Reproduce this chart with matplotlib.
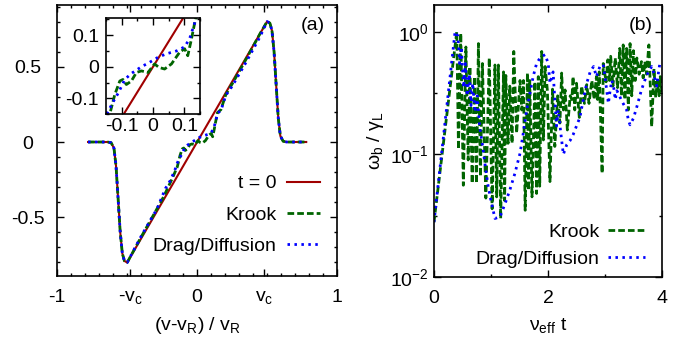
import numpy as np
import matplotlib
matplotlib.use("Agg")
import matplotlib.pyplot as plt
from matplotlib.ticker import FixedLocator, MultipleLocator, NullFormatter

plt.rcParams['font.family'] = ['Liberation Sans', 'DejaVu Sans']
plt.rcParams['font.size'] = 14
plt.rcParams['mathtext.fontset'] = 'custom'
plt.rcParams['mathtext.rm'] = 'Liberation Sans'
plt.rcParams['mathtext.it'] = 'Liberation Sans'
plt.rcParams['mathtext.default'] = 'regular'
plt.rcParams['axes.unicode_minus'] = False

# ---- panel (a): distribution gradient vs (v-vR)/vR ----
vc = 0.48

v_t0 = [-0.78, -0.64, -0.615, -0.595, -0.58, -0.565, -0.55, -0.535, -0.52, -0.50,
        0.50, 0.52, 0.535, 0.55, 0.565, 0.58, 0.595, 0.615, 0.64, 0.78]
f_t0 = [0.0, 0.0, -0.005, -0.04, -0.16, -0.38, -0.60, -0.74, -0.79, -0.80,
        0.80, 0.79, 0.74, 0.60, 0.38, 0.16, 0.04, 0.005, 0.0, 0.0]

v_krook = [-0.78, -0.64, -0.615, -0.595, -0.58, -0.565, -0.55, -0.535, -0.52, -0.50,
           -0.40, -0.30, -0.24, -0.178, -0.142, -0.122, -0.106, -0.096, -0.085,
           -0.069, -0.053, -0.037, -0.016, 0.005, 0.019, 0.037, 0.059, 0.085,
           0.101, 0.111, 0.122, 0.133, 0.145, 0.17, 0.205, 0.25, 0.35, 0.45,
           0.50, 0.52, 0.535, 0.55, 0.565, 0.58, 0.595, 0.615, 0.64, 0.78]
f_krook = [0.0, 0.0, -0.005, -0.04, -0.16, -0.38, -0.60, -0.74, -0.79, -0.80,
           -0.63, -0.465, -0.364, -0.242, -0.165, -0.088, -0.045, -0.040, -0.056,
           -0.045, -0.018, -0.013, -0.018, 0.009, -0.002, -0.007, 0.009, 0.046,
           0.057, 0.035, 0.084, 0.138, 0.195, 0.215, 0.315, 0.385, 0.55, 0.72,
           0.80, 0.79, 0.74, 0.60, 0.38, 0.16, 0.04, 0.005, 0.0, 0.0]

v_drag = [-0.78, -0.64, -0.615, -0.595, -0.58, -0.565, -0.55, -0.535, -0.52, -0.50,
          -0.40, -0.286, -0.227, -0.19, -0.155, -0.146, -0.127, -0.111, -0.090,
          -0.069, -0.037, -0.011, 0.016, 0.043, 0.075, 0.101, 0.117, 0.133,
          0.145, 0.17, 0.205, 0.25, 0.35, 0.45,
          0.50, 0.52, 0.535, 0.55, 0.565, 0.58, 0.595, 0.615, 0.64, 0.78]
f_drag = [0.0, 0.0, -0.005, -0.04, -0.16, -0.38, -0.60, -0.74, -0.79, -0.80,
          -0.625, -0.442, -0.309, -0.253, -0.176, -0.147, -0.110, -0.083, -0.040,
          -0.021, 0.0, 0.014, 0.030, 0.041, 0.050, 0.063, 0.089, 0.138,
          0.19, 0.21, 0.31, 0.37, 0.53, 0.70,
          0.80, 0.79, 0.74, 0.60, 0.38, 0.16, 0.04, 0.005, 0.0, 0.0]

# ---- panel (b): bounce frequency vs nu_eff t ----
t_krook = [0.0, 0.40, 0.43, 0.47, 0.515, 0.56, 0.60, 0.63, 0.67, 0.71, 0.745,
           0.78, 0.815, 0.85, 0.91, 0.97, 1.02, 1.07, 1.10, 1.13, 1.17, 1.22,
           1.24, 1.26, 1.30, 1.33, 1.37, 1.40, 1.45, 1.51, 1.54, 1.57, 1.60,
           1.64, 1.66, 1.68, 1.72, 1.77, 1.80, 1.83, 1.855, 1.89, 1.92, 1.95,
           1.99, 2.035, 2.08, 2.12, 2.17, 2.21, 2.24, 2.27, 2.30, 2.34, 2.39,
           2.42, 2.44, 2.47, 2.50, 2.55, 2.59, 2.64, 2.68, 2.72, 2.77, 2.81,
           2.85, 2.87, 2.90, 2.95, 2.97, 3.02, 3.05, 3.08, 3.10, 3.14, 3.18,
           3.22, 3.26, 3.29, 3.32, 3.35, 3.38, 3.41, 3.44, 3.47, 3.50, 3.53,
           3.56, 3.60, 3.64, 3.67, 3.70, 3.73, 3.77, 3.82, 3.86, 3.89, 3.92,
           3.95, 3.97, 4.0]
w_krook = [0.028, 1.0, 0.11, 0.97, 0.056, 0.75, 0.09, 0.52, 0.058, 0.43, 0.058,
           0.80, 0.066, 0.55, 0.044, 0.61, 0.036, 0.535, 0.045, 0.535, 0.030, 0.47,
           0.042, 0.44, 0.123, 0.36, 0.123, 0.69, 0.149, 0.40, 0.23, 0.40, 0.035,
           0.46, 0.051, 0.40, 0.045, 0.39, 0.048, 0.43, 0.055, 0.69, 0.131, 0.52,
           0.33, 0.060, 0.34, 0.116, 0.30, 0.18, 0.46, 0.23, 0.335, 0.158, 0.30,
           0.28, 0.43, 0.23, 0.38, 0.20, 0.36, 0.26, 0.37, 0.26, 0.40, 0.28,
           0.43, 0.28, 0.47, 0.070, 0.55, 0.39, 0.59, 0.40, 0.63, 0.36, 0.61,
           0.35, 0.73, 0.30, 0.78, 0.28, 0.73, 0.23, 0.80, 0.30, 0.70, 0.40,
           0.61, 0.45, 0.57, 0.42, 0.57, 0.45, 0.78, 0.168, 0.50, 0.29, 0.40,
           0.30, 0.43, 0.32]

t_drag = [0.0, 0.37, 0.42, 0.45, 0.48, 0.52, 0.55, 0.58, 0.62, 0.65, 0.68, 0.72,
          0.76, 0.80, 0.85, 0.90, 0.95, 1.00, 1.07, 1.16, 1.25, 1.33, 1.42, 1.51,
          1.567, 1.626, 1.684, 1.74, 1.80, 1.86, 1.90, 1.95, 2.005, 2.035, 2.09,
          2.12, 2.15, 2.18, 2.24, 2.27, 2.33, 2.39, 2.44, 2.50, 2.56, 2.62, 2.68,
          2.74, 2.80, 2.85, 2.91, 2.97, 3.0, 3.06, 3.09, 3.12, 3.15, 3.18, 3.21,
          3.30, 3.38, 3.41, 3.44, 3.50, 3.56, 3.64, 3.73, 3.82, 3.85, 3.88, 3.91,
          3.94, 3.96, 4.0]
w_drag = [0.028, 1.0, 0.92, 0.55, 0.75, 0.35, 0.55, 0.30, 0.45, 0.25, 0.38, 0.22,
          0.30, 0.17, 0.12, 0.08, 0.055, 0.042, 0.030, 0.031, 0.040, 0.051, 0.070,
          0.102, 0.149, 0.23, 0.315, 0.43, 0.55, 0.61, 0.63, 0.65, 0.55, 0.38,
          0.47, 0.28, 0.17, 0.23, 0.13, 0.10, 0.12, 0.13, 0.144, 0.17, 0.20, 0.28,
          0.38, 0.47, 0.52, 0.43, 0.52, 0.54, 0.43, 0.26, 0.33, 0.40, 0.36, 0.28,
          0.33, 0.27, 0.23, 0.19, 0.174, 0.197, 0.245, 0.335, 0.44, 0.52, 0.47,
          0.40, 0.36, 0.47, 0.54, 0.52]

red = '#a00000'
green = '#006400'
blue = '#0000ff'
dash = (0, (2.4, 1.1))
dot = (0, (0.9, 1.6))


def style_axes(ax):
    ax.tick_params(which='both', direction='in', top=True, right=True)
    ax.tick_params(which='major', length=5, width=1)
    ax.tick_params(which='minor', length=2.5, width=1)
    for s in ax.spines.values():
        s.set_linewidth(1.2)


fig = plt.figure(figsize=(6.83, 3.47), dpi=100)

# panel (a)
ax1 = fig.add_axes([0.0839, 0.2046, 0.4095, 0.781])
ax1.plot(v_t0, f_t0, color=red, lw=1.5, label='t = 0')
ax1.plot(v_krook, f_krook, color=green, lw=2, linestyle=dash, label='Krook')
ax1.plot(v_drag, f_drag, color=blue, lw=2, linestyle=dot, label='Drag/Diffusion')
ax1.set_xlim(-1, 1)
ax1.set_ylim(-0.89, 0.91)
ax1.set_xticks([-1, -vc, 0, vc, 1])
ax1.set_xticklabels(['-1', '-v$_c$', '0', 'v$_c$', '1'])
ax1.xaxis.set_minor_locator(MultipleLocator(0.1))
ax1.set_yticks([-0.5, 0, 0.5])
ax1.set_yticklabels(['-0.5', '0', '0.5'])
ax1.yaxis.set_minor_locator(MultipleLocator(0.1))
style_axes(ax1)
ax1.tick_params(axis='x', which='major', pad=9.5)
ax1.tick_params(axis='y', which='major', pad=21.5)
for lbl in ax1.get_yticklabels():
    lbl.set_horizontalalignment('center')
ax1.set_xlabel('(v-v$_R$) / v$_R$', labelpad=6)
ax1.text(0.955, 0.925, '(a)', transform=ax1.transAxes, ha='right', va='center')
ax1.legend(loc='lower right', bbox_to_anchor=(0.94, 0.078), markerfirst=False,
           frameon=False, handlelength=1.7, handletextpad=0.56, labelspacing=0.7,
           borderaxespad=0, borderpad=0)

# inset
axi = fig.add_axes([0.1552, 0.6706, 0.1376, 0.2784])
axi.plot(v_t0, f_t0, color=red, lw=1.5)
axi.plot(v_krook, f_krook, color=green, lw=2, linestyle=dash)
axi.plot(v_drag, f_drag, color=blue, lw=2, linestyle=dot)
axi.set_xlim(-0.15, 0.15)
axi.set_ylim(-0.15, 0.155)
axi.set_xticks([-0.1, 0, 0.1])
axi.set_xticklabels(['-0.1', '0', '0.1'])
axi.set_yticks([-0.1, 0, 0.1])
axi.set_yticklabels(['-0.1', '0', '0.1'])
axi.xaxis.set_minor_locator(MultipleLocator(0.05))
axi.yaxis.set_minor_locator(MultipleLocator(0.05))
style_axes(axi)
axi.tick_params(axis='x', which='major', pad=2.5)
axi.tick_params(axis='y', which='major', pad=5)

# panel (b)
ax2 = fig.add_axes([0.6354, 0.2017, 0.3338, 0.7839])
ax2.semilogy(t_krook, w_krook, color=green, lw=2, linestyle=dash, label='Krook')
ax2.semilogy(t_drag, w_drag, color=blue, lw=2, linestyle=dot, label='Drag/Diffusion')
ax2.set_xlim(0, 4)
ax2.set_ylim(0.01, 1.65)
ax2.set_xticks([0, 2, 4])
ax2.xaxis.set_minor_locator(FixedLocator([1, 3]))
ax2.yaxis.set_minor_locator(FixedLocator([10 ** -1.5, 10 ** -0.5]))
ax2.yaxis.set_minor_formatter(NullFormatter())
style_axes(ax2)
ax2.tick_params(axis='x', which='major', pad=9.5)
ax2.set_xlabel(r'$\nu_{eff}$ t', labelpad=6)
ax2.set_ylabel(r'$\omega_b$ / $\gamma_L$', labelpad=3)
ax2.text(0.96, 0.925, '(b)', transform=ax2.transAxes, ha='right', va='center')
ax2.legend(loc='lower right', bbox_to_anchor=(0.925, 0.033), markerfirst=False,
           frameon=False, handlelength=1.9, handletextpad=0.45, labelspacing=0.51,
           borderaxespad=0, borderpad=0)

fig.savefig('out.png', dpi=100)
